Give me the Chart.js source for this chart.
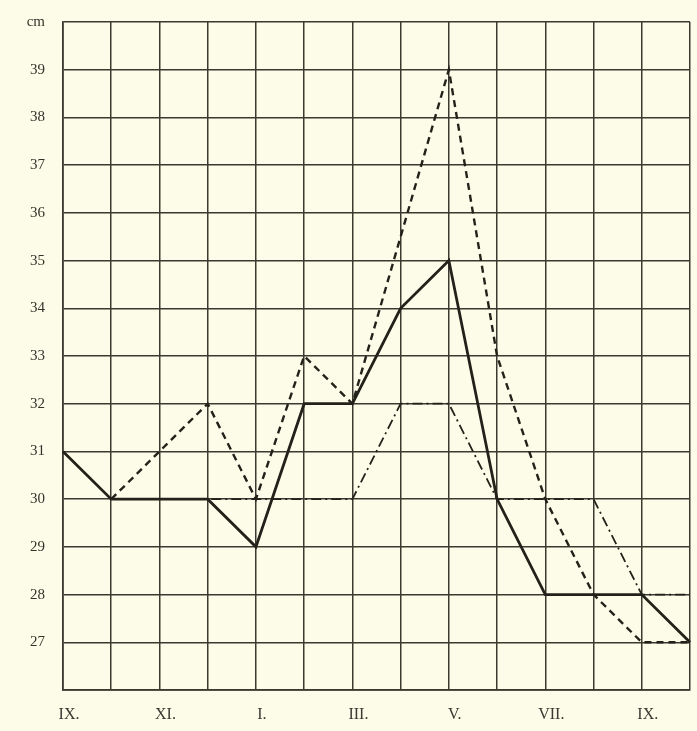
<!DOCTYPE html>
<html>
<head>
<meta charset="utf-8">
<script src="https://cdn.jsdelivr.net/npm/chart.js@4"></script>
<style>
body{margin:0;background:#fdfce9;}
</style>
</head>
<body>
<canvas id="lineChart" width="697" height="731"></canvas>
<script>
// monthly measurements, IX. to X. of the next year
const months = ['IX.','X.','XI.','XII.','I.','II.','III.','IV.','V.','VI.','VII.','VIII.','IX.','X.'];
const shownLabels = ['IX.','','XI.','','I.','','III.','','V.','','VII.','','IX.',''];

const solid   = [31, 30, 30, 30, 29, 32, 32, 34, 35, 30, 28, 28, 28, 27];
const dashed  = [null, 30, 31, 32, 30, 33, 32, 35.5, 39, 33, 30, 28, 27, 27];
const dashDot = [null, 30, 30, 30, 30, 30, 30, 32, 32, 30, 30, 30, 28, 28];

const ink = '#22221a';

const bg = {
  id: 'bg',
  beforeDraw(chart){
    const c = chart.ctx;
    c.save();
    c.fillStyle = '#fdfce9';
    c.fillRect(0, 0, chart.width, chart.height);
    c.restore();
  }
};

const data = {
  labels: months,
  datasets: [
    {label: 'a', data: solid, borderColor: ink, borderWidth: 2.8, pointRadius: 0, tension: 0},
    {label: 'b', data: dashed, borderColor: ink, borderWidth: 2.4, borderDash: [7, 5], pointRadius: 0, tension: 0},
    {label: 'c', data: dashDot, borderColor: ink, borderWidth: 1.8, borderDash: [10, 4, 2, 4], pointRadius: 0, tension: 0}
  ]
};

const config = {
  type: 'line',
  data: data,
  plugins: [bg],
  options: {
    responsive: false,
    animation: false,
    layout: {padding: {top: 22, right: 7}},
    plugins: {legend: {display: false}, tooltip: {enabled: false}},
    scales: {
      x: {
        offset: false,
        grid: {color: '#3a3a30', lineWidth: 1.5, drawTicks: false},
        border: {color: '#3a3a30', width: 1.7},
        ticks: {
          autoSkip: false, maxRotation: 0, padding: 15, labelOffset: 6,
          color: '#3a3a32',
          font: {family: 'Liberation Serif', size: 16},
          callback: (v, i) => shownLabels[i]
        },
        afterFit: s => { s.height = 41; s.paddingLeft = 0; s.paddingRight = 0; }
      },
      y: {
        min: 26, max: 40,
        grid: {color: '#3a3a30', lineWidth: 1.5, drawTicks: false},
        border: {color: '#3a3a30', width: 1.7},
        ticks: {
          stepSize: 1, padding: 18,
          color: '#33332b',
          font: {family: 'Liberation Serif', size: 15},
          callback: v => v == 40 ? 'cm' : (v == 26 ? '' : v)
        },
        afterFit: s => { s.width = 63; s.paddingTop = 0; s.paddingBottom = 0; }
      }
    }
  }
};

const lineChart = new Chart(document.getElementById('lineChart'), config);
</script>
</body>
</html>
